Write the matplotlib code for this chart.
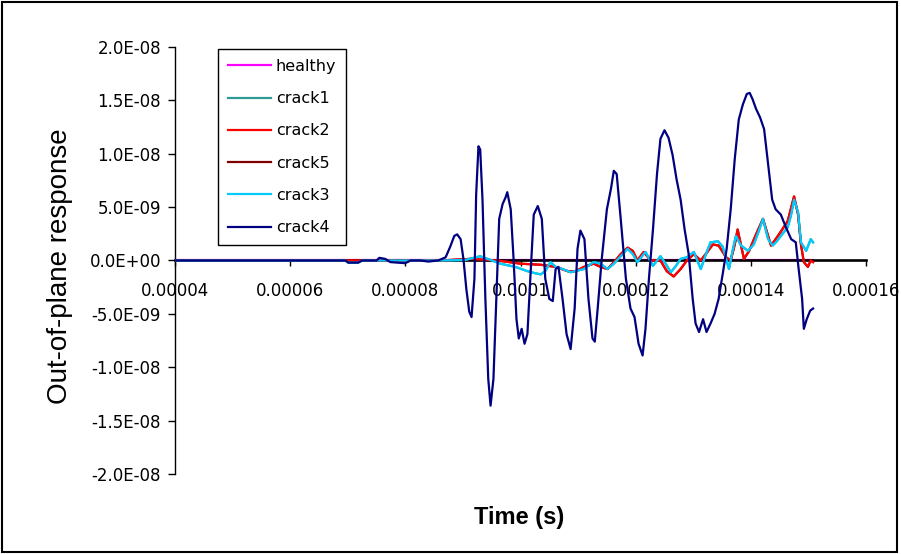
import numpy as np
import matplotlib
matplotlib.use('Agg')
import matplotlib.pyplot as plt
from matplotlib.patches import Rectangle

# time in microseconds, response in units of 1e-9
crack4_t = [40.0, 69.6, 70.1, 71.8, 72.5, 75.0, 75.5, 76.5, 77.4, 78.6,
            80.0, 80.9, 82.6, 84.0, 85.7, 87.0, 87.8, 88.5, 89.0, 89.6,
            90.1, 90.6, 91.1, 91.5, 92.0, 92.3, 92.7, 93.0, 93.4, 93.9,
            94.4, 94.8, 95.3, 95.8, 96.3, 96.9, 97.4, 97.7, 98.3, 98.8,
            99.3, 99.7, 100.2, 100.7, 101.2, 101.7, 102.3, 103.0, 103.7, 104.3,
            105.0, 105.6, 106.1, 106.6, 107.3, 108.0, 108.7, 109.4, 109.9, 110.4,
            111.1, 111.8, 112.5, 112.9, 113.4, 114.1, 115.0, 115.7, 116.2, 116.7,
            117.4, 118.3, 119.1, 119.8, 120.5, 121.2, 121.7, 122.3, 123.0, 123.7,
            124.3, 125.0, 125.7, 126.4, 127.1, 127.8, 128.5, 129.2, 129.9, 130.4,
            131.0, 131.7, 132.3, 133.0, 133.7, 134.4, 135.1, 135.8, 136.5, 137.2,
            137.9, 138.6, 139.3, 139.8, 140.3, 140.9, 141.6, 142.3, 143.0, 143.7,
            144.3, 145.2, 146.1, 147.0, 147.8, 148.3, 148.9, 149.2, 149.7, 150.3,
            150.8]
crack4_v = [0, 0, -0.2, -0.2, 0, 0, 0.25, 0.15, -0.15, -0.2,
            -0.25, 0, 0, -0.1, 0, 0.3, 1.3, 2.3, 2.45, 2.0,
            0.1, -2.7, -4.8, -5.3, -1.7, 6.2, 10.7, 10.4, 5.7, -3.6,
            -11.1, -13.6, -11.1, -3.6, 3.9, 5.3, 5.9, 6.4, 4.8, 0.1,
            -5.5, -7.3, -6.4, -7.8, -6.9, -1.7, 4.3, 5.1, 3.9, -1.7,
            -3.6, -3.8, -0.8, -0.6, -3.6, -6.9, -8.3, -4.5, 1.1, 2.8,
            2.0, -3.6, -7.3, -7.6, -4.5, 0.1, 4.8, 6.7, 8.4, 8.1,
            3.9, -1.7, -4.5, -5.3, -7.8, -8.9, -6.4, -1.7, 2.9, 8.1,
            11.4, 12.2, 11.5, 9.9, 7.6, 5.7, 2.9, 0.6, -3.6, -5.9,
            -6.7, -5.5, -6.7, -5.9, -5.0, -3.6, -1.3, 1.1, 4.8, 9.5,
            13.2, 14.6, 15.6, 15.7, 15.1, 14.2, 13.4, 12.3, 9.0, 5.7,
            4.8, 4.3, 3.1, 2.0, 1.7, -0.8, -3.6, -6.4, -5.5, -4.7,
            -4.5]

crack3_t = [40.0, 69.6, 70.1, 71.8, 72.5, 86.1, 90.4, 93.0, 94.8, 96.5,
            99.1, 101.2, 102.6, 103.5, 104.3, 105.2, 106.1, 107.3, 108.7, 111.0,
            112.7, 113.9, 115.1, 116.2, 117.4, 118.6, 119.5, 120.3, 121.7, 123.0,
            124.3, 125.2, 126.1, 127.0, 127.8, 128.9, 130.1, 131.3, 132.2, 133.0,
            134.3, 135.1, 135.7, 136.2, 136.9, 137.4, 138.3, 139.5, 140.5, 141.4,
            142.1, 143.0, 143.8, 144.5, 145.2, 146.4, 147.0, 147.5, 148.2, 148.7,
            149.6, 150.4, 150.8]
crack3_v = [0, 0, -0.2, -0.2, 0, 0, 0.05, 0.4, 0.05, -0.3,
            -0.6, -1.0, -1.2, -1.3, -1.0, -0.15, -0.6, -0.8, -1.1, -0.8,
            -0.15, -0.3, -0.8, -0.3, 0.4, 1.1, 0.6, -0.15, 0.8, -0.5,
            0.4, -0.3, -1.1, -0.5, 0.15, 0.3, 0.8, -0.8, 0.6, 1.7,
            1.8, 1.3, 0.15, -0.8, 1.1, 2.3, 1.4, 0.9, 1.5, 2.8,
            3.9, 2.0, 1.4, 1.8, 2.3, 3.1, 4.3, 5.7, 4.5, 1.7,
            0.9, 2.0, 1.7]

crack2_t = [40.0, 86.1, 91.3, 96.0, 100.0, 103.5, 106.1, 108.2, 109.6, 111.0,
            112.7, 113.9, 115.1, 116.5, 117.4, 118.6, 119.5, 120.3, 121.4, 122.6,
            124.3, 125.4, 126.6, 127.8, 128.9, 130.1, 131.3, 132.3, 133.4, 134.4,
            135.7, 136.5, 137.2, 137.7, 138.8, 139.7, 140.7, 142.1, 143.5, 144.3,
            145.2, 146.4, 147.5, 148.2, 148.7, 149.2, 149.9, 150.4, 150.8]
crack2_v = [0, 0, 0.15, 0, -0.3, -0.4, -0.6, -1.0, -1.0, -0.6,
            -0.3, -0.6, -0.8, 0, 0.6, 1.2, 0.9, 0, 0.8, 0,
            0, -1.0, -1.5, -0.8, 0, 0.6, 0, 0.7, 1.5, 1.4,
            0.3, 0, 1.5, 2.9, 0.15, 0.9, 2.2, 3.9, 1.4, 2.0,
            2.7, 3.7, 6.0, 4.3, 1.5, -0.15, -0.6, 0, -0.15]

# crack1 / crack5 sit underneath crack3 / crack2 in the picture
crack1_t = crack3_t
crack1_v = crack3_v
crack5_t = crack2_t
crack5_v = crack2_v

healthy_t = [40.0, 150.8]
healthy_v = [0, 0]

xticks = [4e-5, 6e-5, 8e-5, 1e-4, 1.2e-4, 1.4e-4, 1.6e-4]
xticklabels = ['0.00004', '0.00006', '0.00008', '0.0001', '0.00012', '0.00014', '0.00016']
yticks = [-2e-8, -1.5e-8, -1e-8, -5e-9, 0, 5e-9, 1e-8, 1.5e-8, 2e-8]
yticklabels = ['-2.0E-08', '-1.5E-08', '-1.0E-08', '-5.0E-09', '0.0E+00',
               '5.0E-09', '1.0E-08', '1.5E-08', '2.0E-08']

# (label, t, v, colour, zorder)
series = [
    ('healthy', healthy_t, healthy_v, '#FF00FF', 0.5),
    ('crack1', crack1_t, crack1_v, '#2E9A94', 3),
    ('crack2', crack2_t, crack2_v, '#FF0000', 5),
    ('crack5', crack5_t, crack5_v, '#800000', 4),
    ('crack3', crack3_t, crack3_v, '#00CCFF', 6),
    ('crack4', crack4_t, crack4_v, '#000080', 7),
]

plt.rcParams['font.family'] = 'DejaVu Sans'

fig = plt.figure(figsize=(9.01, 5.54), dpi=100)
ax = fig.add_axes([0.1942, 0.1444, 0.767, 0.7708])

for name, t, v, c, z in series:
    ax.plot(np.array(t) * 1e-6, np.array(v) * 1e-9, color=c, lw=1.6, label=name, zorder=z)

ax.set_xlim(4e-5, 1.6e-4)
ax.set_ylim(-2e-8, 2e-8)

ax.spines['top'].set_visible(False)
ax.spines['right'].set_visible(False)
ax.spines['bottom'].set_position(('data', 0))
ax.spines['bottom'].set_linewidth(1.9)
ax.spines['bottom'].set_zorder(1)
ax.spines['left'].set_linewidth(1.0)

ax.set_xticks(xticks)
ax.set_xticklabels(xticklabels)
ax.set_yticks(yticks)
ax.set_yticklabels(yticklabels)
ax.tick_params(axis='x', direction='out', length=4, width=1, pad=11.5, labelsize=12)
ax.tick_params(axis='y', direction='out', length=5, width=1, pad=5, labelsize=12)

ax.set_ylabel('Out-of-plane response', fontsize=20, family='Liberation Sans', va='center')
ax.yaxis.set_label_coords(-0.166, 0.487)
ax.set_xlabel('Time (s)', fontsize=17, fontweight='bold', family='Liberation Sans', va='center')
ax.xaxis.set_label_coords(0.498, -0.1007)

leg = ax.legend(loc='upper left', bbox_to_anchor=(218 / 901, 1 - 49 / 554),
                bbox_transform=fig.transFigure, borderaxespad=0, fontsize=11.5,
                fancybox=False, framealpha=1, edgecolor='black',
                handlelength=2.7, handletextpad=0.3, labelspacing=1.08, borderpad=0.62)
leg.get_frame().set_linewidth(1.0)
leg.set_zorder(10)

fig.patches.append(Rectangle((0.002, 0.003), 0.994, 0.993, transform=fig.transFigure,
                             fill=False, edgecolor='black', linewidth=1.5))

fig.savefig('out.png', dpi=100)
